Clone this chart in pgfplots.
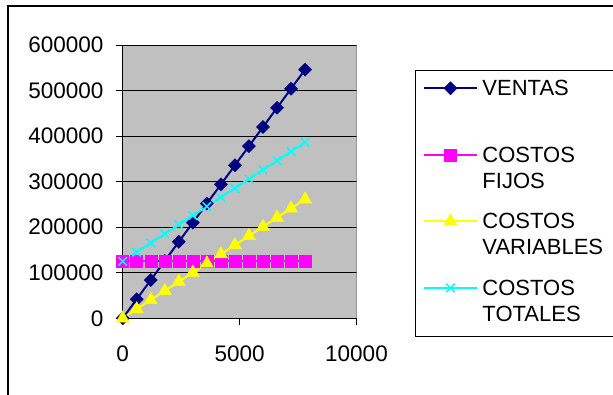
\documentclass[border=0pt]{standalone}
\usepackage{pgfplots}
\pgfplotsset{compat=1.18}
\usepackage{fontspec}
\setmainfont{Liberation Sans}
\definecolor{xlnavy}{RGB}{0,0,128}
\definecolor{xlmag}{RGB}{255,0,255}
\definecolor{xlyel}{RGB}{255,255,0}
\definecolor{xlcyan}{RGB}{0,255,255}
\definecolor{xlgray}{RGB}{192,192,192}
\definecolor{xlborder}{RGB}{128,128,128}
\newcommand{\ent}[2]{\begin{tabular}[t]{@{}p{160pt}@{}}#1\\#2\end{tabular}}
\pgfplotstableread{
x ventas fijos variables totales
0 0 125000 0 125000
600 42000 125000 20100 145100
1200 84000 125000 40200 165200
1800 126000 125000 60300 185300
2400 168000 125000 80400 205400
3000 210000 125000 100500 225500
3600 252000 125000 120600 245600
4200 294000 125000 140700 265700
4800 336000 125000 160800 285800
5400 378000 125000 180900 305900
6000 420000 125000 201000 326000
6600 462000 125000 221100 346100
7200 504000 125000 241200 366200
7800 546000 125000 261300 386300
}\datatable
\begin{document}
\begin{tikzpicture}[x=1pt,y=1pt]
\path[use as bounding box] (0,0) rectangle (613,394);
\draw[line width=1.2pt] (8,-5) -- (8,388) -- (620,388);
\begin{axis}[
 at={(122.7pt,75.7pt)}, anchor=south west,
 scale only axis, width=233.8pt, height=273.3pt,
 xmin=0,xmax=10000,ymin=0,ymax=600000,
 xtick={0,5000,10000}, ytick={0,100000,200000,300000,400000,500000,600000},
 scaled ticks=false,
 /pgf/number format/fixed,
 /pgf/number format/1000 sep={},
 /pgf/number format/assume math mode=true,
 axis lines=left, axis line style={-, black, line width=1pt},
 tick align=outside, major tick length=7pt, tick style={black, line width=1pt},
 ymajorgrids, grid style={black, line width=0.9pt},
 axis background/.style={fill=xlgray},
 ticklabel style={font=\fontsize{22.5}{26}\selectfont, inner sep=0pt},
 yticklabel style={xshift=-12pt},
 xticklabel style={yshift=-20pt},
 legend style={at={(1.2502,0.9085)}, anchor=north west, draw=black, line width=1pt, fill=white,
   inner xsep=8pt, inner ysep=7pt, row sep=14.5pt, column sep=5pt,
   nodes={inner sep=0pt, text depth=33.8pt, font=\fontsize{22}{26}\selectfont}},
 legend cell align=left,
 legend image code/.code={\draw[mark repeat=2,mark phase=2,#1,yshift=15.2pt] plot coordinates {(0pt,0pt)(26pt,0pt)(52pt,0pt)};},
]
\addplot[color=xlnavy, line width=2pt, mark=square*, mark size=4.6pt, mark options={rotate=45, fill=xlnavy, line width=0.5pt}] table[x=x,y=ventas] {\datatable};
\addlegendentry{\ent{VENTAS}{\mbox{}}}
\addplot[color=xlmag, line width=2pt, mark=square*, mark size=6pt, mark options={fill=xlmag, line width=0.5pt}] table[x=x,y=fijos] {\datatable};
\addlegendentry{\ent{COSTOS}{FIJOS}}
\addplot[color=xlyel, line width=2pt, mark=triangle*, mark size=7.5pt, mark options={fill=xlyel, line width=0.5pt}] table[x=x,y=variables] {\datatable};
\addlegendentry{\ent{COSTOS}{VARIABLES}}
\addplot[color=xlcyan, line width=2pt, mark=x, mark size=6pt, mark options={line width=1.5pt}] table[x=x,y=totales] {\datatable};
\addlegendentry{\ent{COSTOS}{TOTALES}}
\draw[xlborder, line width=1pt] (rel axis cs:1,0) -- (rel axis cs:1,1);
\end{axis}
\end{tikzpicture}
\end{document}
